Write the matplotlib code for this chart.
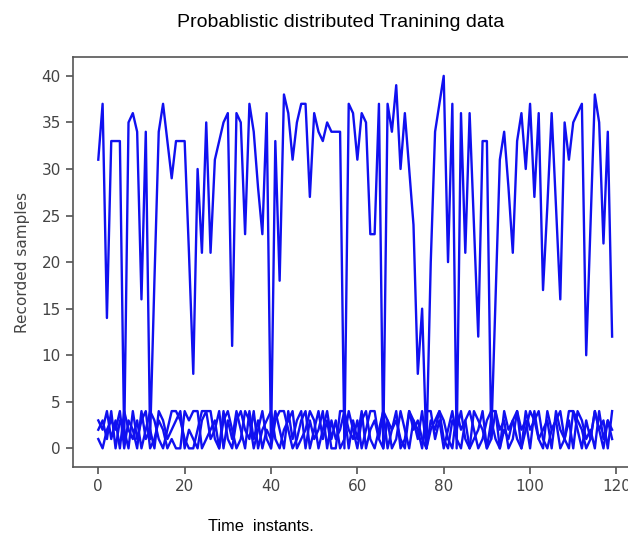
import matplotlib
matplotlib.use("Agg")
import matplotlib.pyplot as plt
import numpy as np

# recorded samples (main sensor) over 120 time instants
main_series = [31,37,14,33,33,33,1,35,36,34,16,34,1,18,34,37,33,29,33,33,
               33,21,8,30,21,35,21,31,33,35,36,11,36,35,23,37,34,28,23,36,
               0,33,18,38,36,31,35,37,37,27,36,34,33,35,34,34,34,0,37,36,
               31,36,35,23,23,37,0,37,34,39,30,36,30,24,8,15,0,20,34,37,
               40,20,37,0,36,21,36,24,12,33,33,1,16,31,34,28,21,33,36,30,
               37,27,36,17,26,36,26,16,35,31,35,36,37,10,24,38,35,22,34,12]

low_a = [3,2,4,1,3,0,4,2,1,3,0,2,4,3,1,0,2,4,4,3,
         1,0,0,2,4,4,4,1,0,3,4,2,0,1,4,3,0,2,4,1,
         0,3,4,4,2,0,1,3,4,0,2,4,1,3,0,0,4,4,2,1,
         3,0,2,4,4,1,0,3,2,4,0,1,4,3,2,0,4,4,1,3,
         0,2,4,1,0,3,4,2,0,1,3,4,4,0,2,1,3,4,0,2,
         4,3,1,0,4,2,3,0,1,4,4,2,0,3,1,4,2,0,3,1]

low_b = [2,3,1,4,0,3,2,0,4,1,3,4,0,1,3,2,0,1,0,0,
         4,3,4,4,0,1,2,3,0,4,1,0,3,4,2,1,4,0,2,3,
         4,1,0,2,3,4,0,1,2,4,3,0,2,4,1,3,0,1,4,2,
         0,3,4,1,0,2,4,3,0,1,4,2,0,3,1,4,0,2,3,4,
         1,0,3,2,4,1,0,4,3,2,0,1,4,2,3,0,1,4,2,3,
         0,4,1,2,3,0,4,2,1,3,0,4,3,1,2,0,4,1,3,2]

low_c = [1,0,2,3,2,4,0,3,2,0,4,1,2,0,4,3,1,2,3,4,
         0,2,1,0,3,4,1,2,4,0,3,1,4,2,0,4,1,3,0,2,
         1,4,2,0,4,1,3,4,0,3,1,2,4,0,3,1,2,4,0,3,
         1,4,0,2,3,1,4,0,2,3,1,0,4,2,3,1,0,3,2,4,
         3,1,0,4,2,3,0,1,2,4,0,3,1,0,4,2,3,1,0,4,
         2,3,4,1,0,2,3,4,1,0,4,3,2,0,1,4,2,3,0,4]

fig = plt.figure(figsize=(6.28, 5.37), dpi=100)
ax = fig.add_axes([0.1156, 0.1304, 0.900, 0.763])

for s in [main_series, low_a, low_b, low_c]:
    ax.plot(s, color="#1010f0", lw=1.7)

ax.set_yticks(range(0, 41, 5))
ax.set_xticks(range(0, 121, 20))
ax.tick_params(labelsize=11, colors="#444444", length=5, width=1.1)
for sp in ax.spines.values():
    sp.set_color("#555555")
    sp.set_linewidth(1.2)

ax.set_ylabel("Recorded samples", fontsize=11, color="#444444", labelpad=8)

narrow = ["Liberation Sans", "DejaVu Sans"]
fig.text(0.543, 0.959, "Probablistic distributed Tranining data",
         ha="center", va="center", fontsize=14, family=narrow)
fig.text(0.331, 0.019, "Time  instants.", ha="left", va="center",
         fontsize=11.8, family=narrow)

fig.savefig("out.png", dpi=100)
